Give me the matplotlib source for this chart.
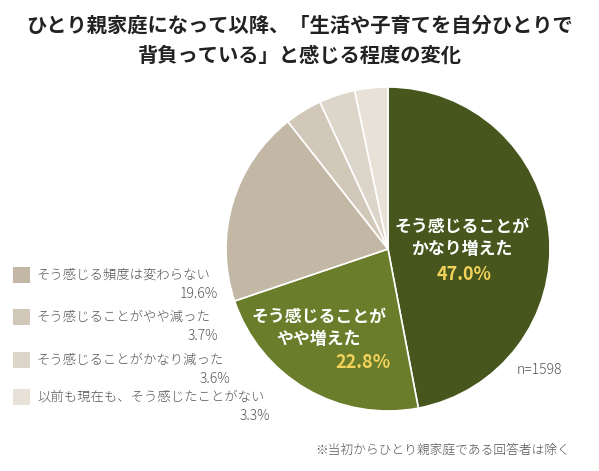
import matplotlib
matplotlib.use("Agg")
import matplotlib.pyplot as plt
from matplotlib.patches import Rectangle

plt.rcParams['font.family'] = ['Noto Sans CJK JP', 'DejaVu Sans']

title_lines = ["ひとり親家庭になって以降、「生活や子育てを自分ひとりで",
               "背負っている」と感じる程度の変化"]
labels = ["そう感じることが\nかなり増えた", "そう感じることが\nやや増えた",
          "そう感じる頻度は変わらない", "そう感じることがやや減った",
          "そう感じることがかなり減った", "以前も現在も、そう感じたことがない"]
values = [47.0, 22.8, 19.6, 3.7, 3.6, 3.3]
colors = ["#47561c", "#6a7d2a", "#c3b8a5", "#d1c8b9", "#dcd5c9", "#e7e1d8"]
note_n = "n=1598"
footnote = "※当初からひとり親家庭である回答者は除く"

fig = plt.figure(figsize=(5.99, 4.71), dpi=100)
ax = fig.add_axes([0, 0, 1, 1])

# pie drawn in pixel-like coordinates (y axis inverted, so flip direction)
wedges, _ = ax.pie(values, colors=colors, startangle=-90, counterclock=True,
                   center=(388, 249), radius=162, frame=True,
                   wedgeprops=dict(edgecolor='white', linewidth=1.2))
ax.set_xlim(0, 599)
ax.set_ylim(471, 0)
ax.set_aspect('equal')
ax.axis('off')

ax.text(300, 25, title_lines[0], ha='center', va='center', fontsize=14.6,
        fontweight='bold', color='#222222')
ax.text(300, 55, title_lines[1], ha='center', va='center', fontsize=14.6,
        fontweight='bold', color='#222222')

# labels inside the two big slices
ax.text(462, 238, labels[0], ha='center', va='center', fontsize=12.2,
        fontweight='bold', color='white', linespacing=1.3)
ax.text(464, 275, f"{values[0]:.1f}%", ha='center', va='center', fontsize=13,
        fontweight='bold', color='#f2d25a')
ax.text(319, 328, labels[1], ha='center', va='center', fontsize=12.2,
        fontweight='bold', color='white', linespacing=1.3)
ax.text(363, 363, f"{values[1]:.1f}%", ha='center', va='center', fontsize=13,
        fontweight='bold', color='#f2d25a')

# legend for the small slices
leg_y = [275, 317, 360, 397]
pct_right = [218, 218, 230, 270]
for i, (y, xr) in enumerate(zip(leg_y, pct_right)):
    k = i + 2
    ax.add_patch(Rectangle((13, y - 8), 17, 16, facecolor=colors[k], edgecolor='none'))
    ax.text(37, y, labels[k], ha='left', va='center', fontsize=9.6,
            fontweight='light', color='#555555')
    ax.text(xr, y + 19, f"{values[k]:.1f}%", ha='right', va='center',
            fontsize=10, fontweight='light', color='#555555')

ax.text(517, 370, note_n, ha='left', va='center', fontsize=10,
        fontweight='light', color='#555555')
ax.text(570, 450, footnote, ha='right', va='center', fontsize=9.2,
        fontweight='light', color='#555555')

fig.savefig('out.png', dpi=100, facecolor='white')
